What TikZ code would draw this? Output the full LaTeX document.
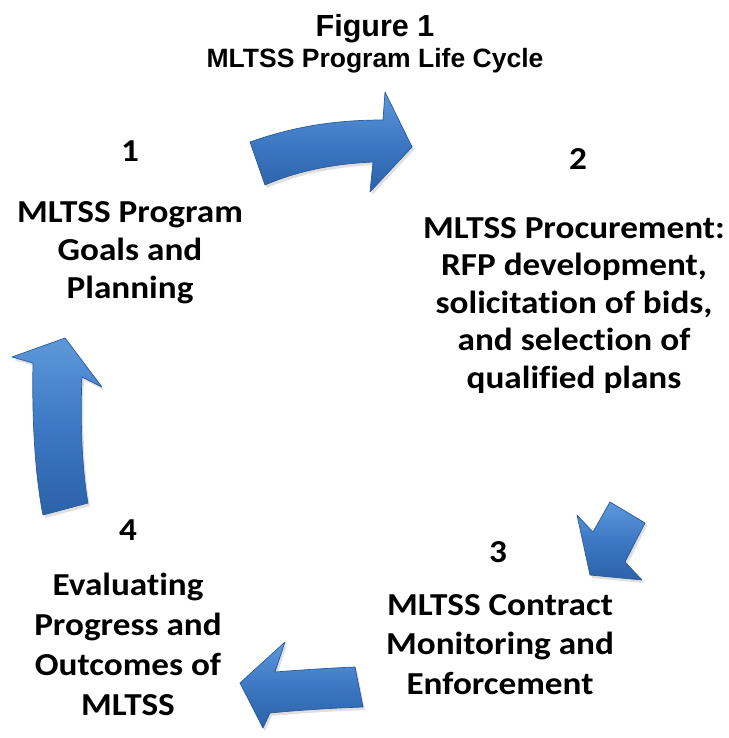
\documentclass[tikz,border=0pt]{standalone}
\usepackage{fontspec}
\setmainfont{Carlito}
\newfontfamily\bodyfont[FakeStretch=1.1,Ligatures=NoCommon]{Carlito}
\newfontfamily\arialfont{Liberation Sans}
\usetikzlibrary{shadows}
\definecolor{arrowlight}{HTML}{5E98DA}
\definecolor{arrowmid}{HTML}{3D78C4}
\definecolor{arrowdark}{HTML}{2C62A8}
\definecolor{arrowedge}{HTML}{2A5A9A}
\begin{document}
\begin{tikzpicture}[x=1pt,y=-1pt,
  lbl/.style={font=\bodyfont\bfseries\fontsize{32}{38}\selectfont, anchor=base, inner sep=0pt},
  ttlbig/.style={font=\arialfont\bfseries\fontsize{30.5}{34}\selectfont, anchor=base, inner sep=0pt},
  ttlsmall/.style={font=\arialfont\bfseries\fontsize{26.5}{30}\selectfont, anchor=base, inner sep=0pt},
  cyclearrow/.style={draw=arrowedge, line width=0.7pt, line join=round,
     top color=arrowlight, bottom color=arrowdark, middle color=arrowmid,
     drop shadow={opacity=0.25, shadow xshift=2pt, shadow yshift=-3pt}}]
\useasboundingbox[fill=white] (0,0) rectangle (728,738);

% titles
\node[ttlbig] (title) at (375,37) {Figure 1};
\node[ttlsmall] (subtitle) at (375,68) {MLTSS Program Life Cycle};

% block 1
\node[lbl] (n1) at (130,162) {1};
\node[lbl] (t1a) at (130,222) {MLTSS Program};
\node[lbl] (t1b) at (130,260) {Goals and};
\node[lbl] (t1c) at (130,298) {Planning};

% block 2
\node[lbl] (n2) at (578,170) {2};
\node[lbl] (t2a) at (574,238) {MLTSS Procurement:};
\node[lbl] (t2b) at (574,275.5) {RFP development,};
\node[lbl] (t2c) at (574,313) {solicitation of bids,};
\node[lbl] (t2d) at (574,350.5) {and selection of};
\node[lbl] (t2e) at (574,388) {qualified plans};

% block 3
\node[lbl] (n3) at (498,562) {3};
\node[lbl] (t3a) at (500,615) {MLTSS Contract};
\node[lbl] (t3b) at (500,654) {Monitoring and};
\node[lbl] (t3c) at (500,694) {Enforcement};

% block 4
\node[lbl] (n4) at (128,540) {4};
\node[lbl] (t4a) at (128,595) {Evaluating};
\node[lbl] (t4b) at (128,635) {Progress and};
\node[lbl] (t4c) at (128,675) {Outcomes of};
\node[lbl] (t4d) at (128,715) {MLTSS};

% arrow 1 -> 2 (top, curved to the right)
\path[cyclearrow] (250,142) .. controls (290,128) and (330,120) .. (383,120)
  -- (385,92) -- (412,147) -- (370,192) -- (373,162)
  .. controls (330,164) and (295,172) .. (265,185) -- cycle;

% arrow 2 -> 3 (small, pointing down-left)
\path[cyclearrow] (610,502) -- (645,523) -- (625,562) -- (642,580)
  -- (590,575) -- (577,515) -- (593,532) -- cycle;

% arrow 3 -> 4 (bottom, pointing left)
\path[cyclearrow] (355,667) .. controls (330,668) and (300,670) .. (275,672)
  -- (285,642) -- (240,683) -- (263,728) -- (270,713)
  .. controls (300,710) and (335,708) .. (363,707) -- cycle;

% arrow 4 -> 1 (left, pointing up)
\path[cyclearrow] (43,515) .. controls (34,470) and (32,410) .. (33,363)
  -- (12,357) -- (65,338) -- (102,387) -- (82,377)
  .. controls (80,420) and (82,470) .. (88,503) -- cycle;
\end{tikzpicture}
\end{document}
